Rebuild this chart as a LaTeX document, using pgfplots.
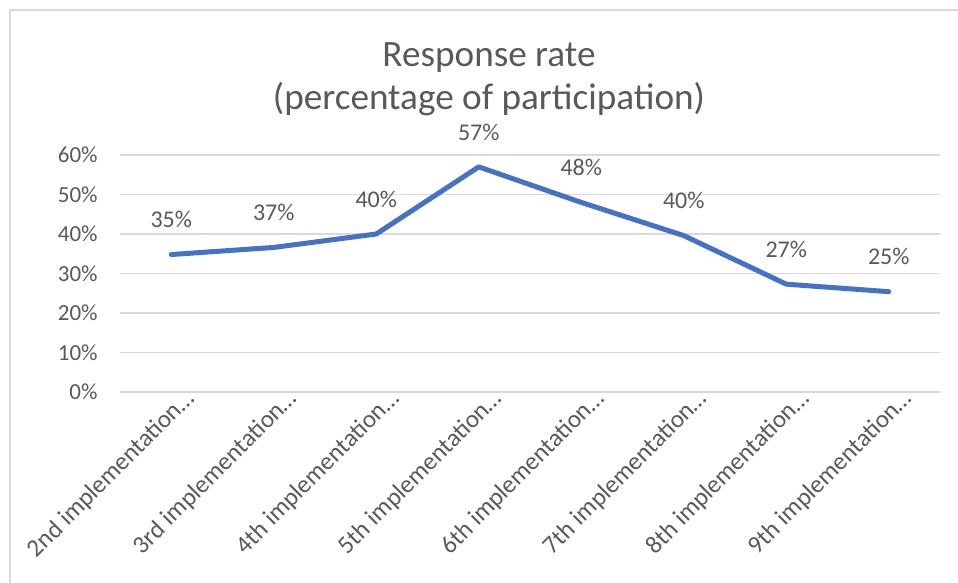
\documentclass[border=0pt]{standalone}
\usepackage{fontspec}
\setmainfont{Carlito}
\usepackage{pgfplots}
\pgfplotsset{compat=1.18}
\definecolor{txt}{HTML}{595959}
\definecolor{gridc}{HTML}{D9D9D9}
\definecolor{line}{HTML}{4472C4}
\begin{document}
\begin{tikzpicture}
\useasboundingbox (-60pt,-95.5pt) rectangle (419pt,196pt);
\draw[gridc, line width=0.8pt] (-55pt,-110pt) -- (-55pt,191pt) -- (440pt,191pt);
\begin{axis}[
  at={(0,0)}, anchor=south west,
  scale only axis,
  width=410pt, height=118.5pt,
  xmin=-0.5, xmax=7.5,
  ymin=0, ymax=60,
  axis line style={draw=none},
  major tick length=0pt,
  ytick={0,10,...,60},
  ymajorgrids,
  grid style={gridc, line width=0.8pt},
  xtick={0,...,7},
  xticklabels={2nd implementation…,3rd implementation…,4th implementation…,5th implementation…,6th implementation…,7th implementation…,8th implementation…,9th implementation…},
  /pgf/number format/assume math mode=true,
  yticklabel={\pgfmathprintnumber{\tick}\%},
  ticklabel style={text=txt},
  yticklabel style={font=\fontsize{11.5}{13}\selectfont, anchor=east, inner sep=0pt, xshift=-11pt},
  xticklabel style={font=\fontsize{12.5}{14}\selectfont, rotate=45, anchor=east, inner sep=0pt, xshift=6pt, yshift=-8pt},
  nodes near coords={\pgfmathprintnumber[fixed,precision=0]{\pgfplotspointmeta}\%},
  every node near coord/.append style={font=\fontsize{12}{14}\selectfont, text=txt, anchor=south, inner sep=0pt, yshift=12pt},
  clip=false,
]
\addplot[line, line width=2.5pt, line join=round, line cap=round, mark=none] coordinates {
(0,34.8)
(1,36.6)
(2,40.0)
(3,57.0)
(4,48.0)
(5,39.6)
(6,27.3)
(7,25.4)
};
\end{axis}
\node[text=txt, font=\fontsize{18.6}{21}\selectfont, anchor=base] at (184.5pt,162.5pt) {Response rate};
\node[text=txt, font=\fontsize{18.6}{21}\selectfont, anchor=base] at (184.5pt,141pt) {(percentage of participation)};
\end{tikzpicture}
\end{document}
